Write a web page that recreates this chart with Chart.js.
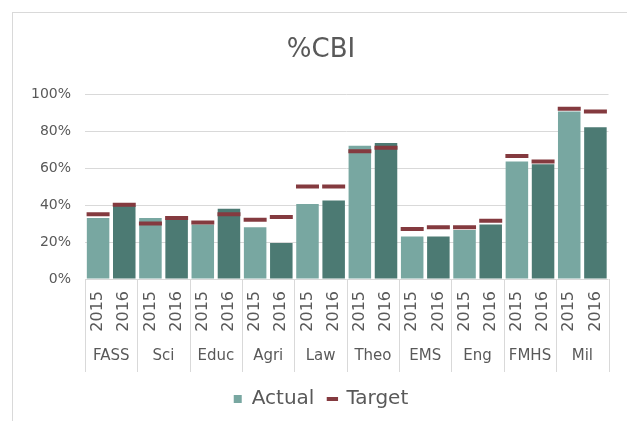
<!DOCTYPE html>
<html>
<head>
<meta charset="utf-8">
<script src="https://cdn.jsdelivr.net/npm/chart.js@4/dist/chart.umd.min.js"></script>
<style>
html,body{margin:0;padding:0;background:#fff;overflow:hidden;}
#wrap{position:relative;width:627px;height:421px;}
#frame{position:absolute;left:12px;top:12px;width:615px;height:409px;border-left:1px solid #d9d9d9;border-top:1px solid #d9d9d9;box-sizing:border-box;}
canvas{position:absolute;left:0;top:0;display:block;}
#title{position:absolute;left:15px;top:33px;width:612px;height:30px;line-height:30px;text-align:center;font-family:'DejaVu Sans',sans-serif;font-size:26px;font-weight:normal;color:#595959;}
</style>
</head>
<body>
<div id="wrap"><div id="frame"></div><canvas id="c" width="627" height="421"></canvas><div id="title">%CBI</div></div>
<script>
const groups = ['FASS','Sci','Educ','Agri','Law','Theo','EMS','Eng','FMHS','Mil'];
const years = ['2015','2016'];
const actual = [33, 39.5, 33, 32, 29.5, 38, 28, 19.5, 40.5, 42.5, 72, 73.5, 23, 23, 26.5, 29.5, 63.5, 62, 90.5, 82];
const target = [35, 40.2, 30, 33, 30.5, 35, 32, 33.5, 50, 50, 69, 71, 27, 28, 28, 31.5, 66.5, 63.5, 92, 90.5];
const yStep = 20;

const lightTeal = '#78a7a1';
const darkTeal = '#4c7a73';
const targetRed = '#843a3f';
const textGray = '#595959';
const gridGray = '#d9d9d9';
const FONT = "'DejaVu Sans', sans-serif";

const labels = [];
groups.forEach(() => years.forEach(y => labels.push(y)));
const barColors = labels.map(y => y === years[0] ? lightTeal : darkTeal);

const separators = {
  id: 'separators',
  afterDraw(chart) {
    const x = chart.scales.x;
    const x2 = chart.scales.x2;
    const ctx = chart.ctx;
    ctx.save();
    ctx.strokeStyle = gridGray;
    ctx.lineWidth = 1;
    for (let g = 0; g <= groups.length; g++) {
      let px;
      if (g === 0) px = x.left;
      else if (g === groups.length) px = x.right;
      else px = (x.getPixelForValue(2 * g - 1) + x.getPixelForValue(2 * g)) / 2;
      px = Math.round(px) + 0.5;
      ctx.beginPath();
      ctx.moveTo(px, chart.chartArea.bottom);
      ctx.lineTo(px, x2.top + 39);
      ctx.stroke();
    }
    ctx.restore();
  }
};

new Chart(document.getElementById('c'), {
  data: {
    labels: labels,
    datasets: [
      {
        type: 'bar',
        label: 'Actual',
        data: actual,
        backgroundColor: barColors,
        borderWidth: 0,
        barPercentage: 0.86,
        categoryPercentage: 1,
        pointStyle: 'rect',
        order: 2
      },
      {
        type: 'line',
        label: 'Target',
        data: target,
        showLine: false,
        pointStyle: 'line',
        pointRadius: 11.5,
        pointBorderWidth: 4,
        pointBorderColor: targetRed,
        borderColor: targetRed,
        backgroundColor: targetRed,
        borderWidth: 4,
        order: 1
      }
    ]
  },
  options: {
    responsive: false,
    animation: false,
    events: [],
    layout: { padding: { left: 28, right: 13, top: 94, bottom: 2 } },
    plugins: {
      title: { display: false },
      legend: {
        position: 'bottom',
        labels: {
          usePointStyle: true,
          boxWidth: 8,
          boxHeight: 8,
          padding: 14,
          color: textGray,
          font: { family: FONT, size: 20 },
          sort: (a, b) => a.datasetIndex - b.datasetIndex
        }
      },
      tooltip: { enabled: false }
    },
    scales: {
      y: {
        min: 0,
        max: 100,
        afterFit: s => { s.width = 57; },
        border: { display: false },
        grid: { color: gridGray, drawTicks: false },
        ticks: {
          stepSize: yStep,
          padding: 14,
          color: textGray,
          font: { family: FONT, size: 14 },
          callback: v => v + '%'
        }
      },
      x: {
        type: 'category',
        position: 'bottom',
        offset: true,
        afterFit: s => { s.height = 54; },
        border: { display: false },
        grid: { display: false, drawTicks: false },
        ticks: {
          minRotation: 90,
          maxRotation: 90,
          autoSkip: false,
          padding: 12,
          color: textGray,
          font: { family: FONT, size: 16 }
        }
      },
      x2: {
        type: 'category',
        position: 'bottom',
        labels: groups,
        offset: true,
        afterFit: s => { s.height = 42; },
        border: { display: false },
        grid: { display: false, drawTicks: false },
        ticks: {
          autoSkip: false,
          maxRotation: 0,
          padding: 14,
          color: textGray,
          font: { family: FONT, size: 15 }
        }
      }
    }
  },
  plugins: [separators]
});
</script>
</body>
</html>
